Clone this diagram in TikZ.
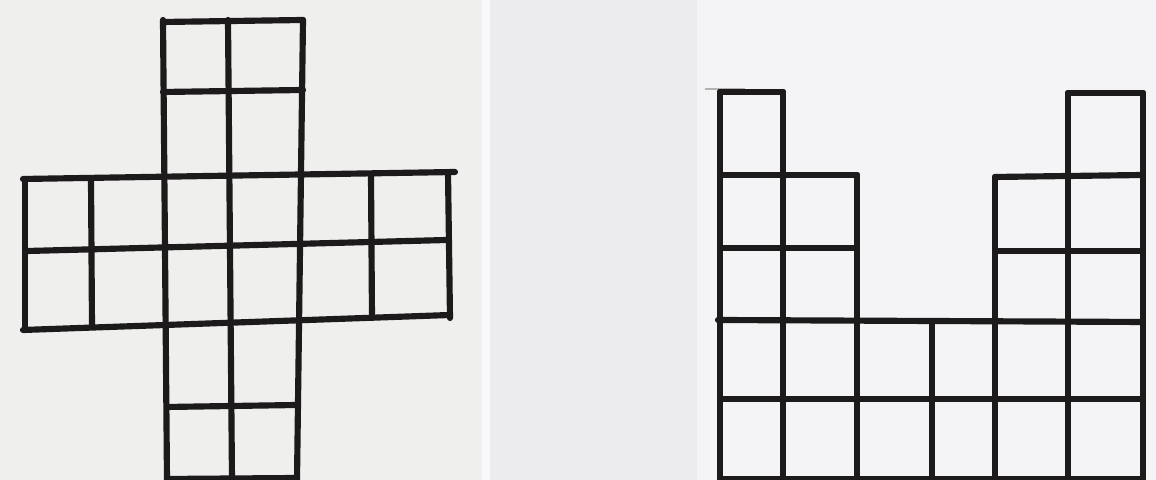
\documentclass[tikz,border=0pt]{standalone}
\usetikzlibrary{calc}
\definecolor{paperL}{RGB}{239,239,237}
\definecolor{paperM}{RGB}{236,236,238}
\definecolor{paperR}{RGB}{244,244,246}
\definecolor{seam}{RGB}{248,248,250}
\definecolor{ink}{RGB}{28,26,26}
\begin{document}
\begin{tikzpicture}[
  x=0.01cm, y=-0.01cm,
  sheet/.style={draw=none},
  pen/.style={draw=ink, line width=1.75pt, line cap=round, line join=round},
  faint/.style={draw=gray!60, line width=0.4pt},
]
  % paper
  \useasboundingbox (0,0) rectangle (1156,480);
  \fill[paperL, sheet] (0,0) rectangle (482,480);
  \fill[seam, sheet] (482,0) rectangle (490,480);
  \fill[paperM, sheet] (490,0) rectangle (697,480);
  \fill[paperR, sheet] (697,0) rectangle (1156,480);
  \draw[faint] (705,89) -- (745,89);

  % left shape: cross
  \draw[pen] (163,20) -- (167,480);
  \draw[pen] (228,20) -- (232,480);
  \draw[pen] (303,20) -- (297,480);
  \draw[pen] (163,22) -- (303,20);
  \draw[pen] (163,92) -- (303,90);
  \draw[pen] (23,179) -- (455,172);
  \draw[pen] (28,251) -- (447,240);
  \draw[pen] (23,330) -- (450,315);
  \foreach \xa/\ya/\xb/\yb in {25/179/25/330, 91/180/92/326, 371/175/372/318, 448/172/450/318}
    \draw[pen] (\xa,\ya) -- (\xb,\yb);
  \draw[pen] (167,407) -- (297,405);
  \draw[pen] (167,479) -- (297,478);

  % right shape: two towers
  \foreach \x/\top in {720/92, 783/92, 857/175, 932/322, 995/177, 1068/93, 1143/93}
    \draw[pen] (\x,\top) -- (\x,480);
  \draw[pen] (720,92) -- (783,92);
  \draw[pen] (720,175) -- (857,175);
  \draw[pen] (720,248) -- (857,248);
  \draw[pen] (718,320) -- (1143,322);
  \draw[pen] (720,399) -- (1143,399);
  \draw[pen] (720,479) -- (1143,479);
  \draw[pen] (995,177) -- (1143,175);
  \draw[pen] (995,251) -- (1143,251);
  \draw[pen] (1068,93) -- (1143,93);
\end{tikzpicture}
\end{document}
